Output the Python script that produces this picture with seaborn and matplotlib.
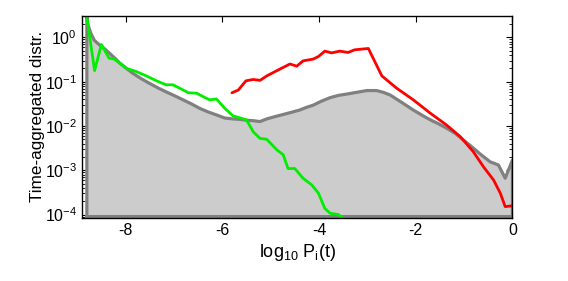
import numpy as np
import pandas as pd
import matplotlib
matplotlib.use("Agg")
import matplotlib.pyplot as plt
import seaborn as sns
from matplotlib.ticker import LogLocator, NullFormatter, FixedLocator

# values, y given as log10
gray_x = [-8.80, -8.78, -8.72, -8.65, -8.54, -8.43, -8.33, -8.22, -8.12, -7.98,
          -7.85, -7.68, -7.5, -7.33, -7.16, -6.98, -6.81, -6.64, -6.47, -6.30,
          -6.12, -5.95, -5.78, -5.64, -5.50, -5.36, -5.22, -5.08, -4.95, -4.81,
          -4.60, -4.40, -4.26, -4.12, -3.95, -3.77, -3.60, -3.43, -3.22, -3.01,
          -2.81, -2.67, -2.53, -2.30, -2.05, -1.88, -1.70, -1.53, -1.36, -1.18,
          -1.01, -0.84, -0.67, -0.46, -0.29, -0.15, 0.0]
gray_log = [0.6, 0.3, 0.1, -0.06, -0.17, -0.26, -0.36, -0.47, -0.58, -0.70,
            -0.81, -0.93, -1.04, -1.14, -1.23, -1.32, -1.41, -1.50, -1.60, -1.68,
            -1.75, -1.82, -1.84, -1.85, -1.87, -1.88, -1.90, -1.84, -1.80, -1.76,
            -1.70, -1.64, -1.58, -1.53, -1.44, -1.36, -1.31, -1.28, -1.24, -1.20,
            -1.20, -1.24, -1.30, -1.46, -1.64, -1.75, -1.86, -1.95, -2.05, -2.17,
            -2.32, -2.47, -2.63, -2.81, -2.88, -3.18, -2.77]

red_x = [-5.80, -5.67, -5.51, -5.36, -5.22, -5.08, -4.87, -4.60, -4.46, -4.33,
         -4.12, -4.01, -3.88, -3.74, -3.57, -3.40, -3.26, -2.98, -2.70, -2.39,
         -2.05, -1.70, -1.36, -1.08, -0.81, -0.60, -0.39, -0.25, -0.15, 0.0]
red_log = [-1.25, -1.19, -0.98, -0.95, -0.97, -0.87, -0.75, -0.60, -0.65, -0.53,
           -0.49, -0.43, -0.31, -0.35, -0.31, -0.34, -0.28, -0.25, -0.87, -1.15,
           -1.41, -1.71, -1.98, -2.24, -2.58, -2.92, -3.22, -3.52, -3.82, -3.80]

green_x = [-8.80, -8.64, -8.50, -8.34, -8.23, -7.98, -7.78, -7.57, -7.36, -7.16,
           -7.02, -6.84, -6.70, -6.53, -6.39, -6.26, -6.12, -5.95, -5.78, -5.50,
           -5.36, -5.22, -5.08, -4.87, -4.74, -4.64, -4.50, -4.33, -4.15, -4.01,
           -3.88, -3.77, -3.60, -3.51]
green_log = [0.45, -0.75, -0.16, -0.47, -0.49, -0.70, -0.77, -0.87, -0.98, -1.07,
             -1.07, -1.17, -1.25, -1.26, -1.34, -1.41, -1.39, -1.60, -1.77, -1.86,
             -2.13, -2.28, -2.30, -2.54, -2.65, -2.96, -2.96, -3.18, -3.33, -3.52,
             -3.86, -3.97, -4.0, -4.08]

x_ticks = [-8, -6, -4, -2, 0]
y_ticks = [1e-4, 1e-3, 1e-2, 1e-1, 1e0]
y_ticklabels = ["$10^{-4}$", "$10^{-3}$", "$10^{-2}$", "$10^{-1}$", "$10^{0}$"]

sns.set_style("ticks")
plt.rcParams["font.family"] = ["Liberation Sans", "DejaVu Sans"]
plt.rcParams["mathtext.fontset"] = "custom"
plt.rcParams["mathtext.rm"] = "Liberation Sans"
plt.rcParams["mathtext.it"] = "Liberation Sans"
plt.rcParams["axes.unicode_minus"] = False
plt.rcParams["text.color"] = "black"
plt.rcParams["axes.labelcolor"] = "black"

fig = plt.figure(figsize=(5.68, 2.81), dpi=100)
ax = fig.add_axes([0.1444, 0.2242, 0.7578, 0.7206])
ax.set_yscale("log")

base = 10 ** -4.045

# gray area, closed down to the base line
gx = [gray_x[0]] + gray_x + [gray_x[-1]]
gy = [base] + [10 ** v for v in gray_log] + [base]
ax.fill_between(gray_x, base, [10 ** v for v in gray_log], color="#cccccc", lw=0)
ax.plot(gx + [gx[0]], gy + [base], color="#808080", lw=2.3, solid_joinstyle="round")

green = pd.DataFrame({"x": green_x, "y": [10 ** v for v in green_log]})
red = pd.DataFrame({"x": red_x, "y": [10 ** v for v in red_log]})
sns.lineplot(data=green, x="x", y="y", sort=False, estimator=None, color="#00ee00", lw=2.0, ax=ax)
sns.lineplot(data=red, x="x", y="y", sort=False, estimator=None, color="#ff0000", lw=2.0, ax=ax)

ax.set_xlim(-8.9, 0)
ax.set_ylim(10 ** -4.077, 10 ** 0.494)
ax.xaxis.set_major_locator(FixedLocator(x_ticks))
ax.set_xticklabels([str(t) for t in x_ticks])
ax.yaxis.set_major_locator(FixedLocator(y_ticks))
ax.set_yticklabels(y_ticklabels)
ax.yaxis.set_minor_locator(LogLocator(base=10, subs=np.arange(2, 10), numticks=20))
ax.yaxis.set_minor_formatter(NullFormatter())

ax.tick_params(which="both", direction="in", top=True, right=True, labelsize=11.5,
               color="black", labelcolor="black")
ax.tick_params(which="major", length=4, width=0.8)
ax.tick_params(which="minor", length=2, width=0.6)
for s in ax.spines.values():
    s.set_color("black")
    s.set_linewidth(1.0)

ax.set_xlabel("log$_{10}$ P$_{i}$(t)", fontsize=13, labelpad=3)
ax.set_ylabel("Time-aggregated distr.", fontsize=12.3)
ax.yaxis.set_label_coords(-0.085, 0.5)

fig.savefig("out.png", dpi=100)
